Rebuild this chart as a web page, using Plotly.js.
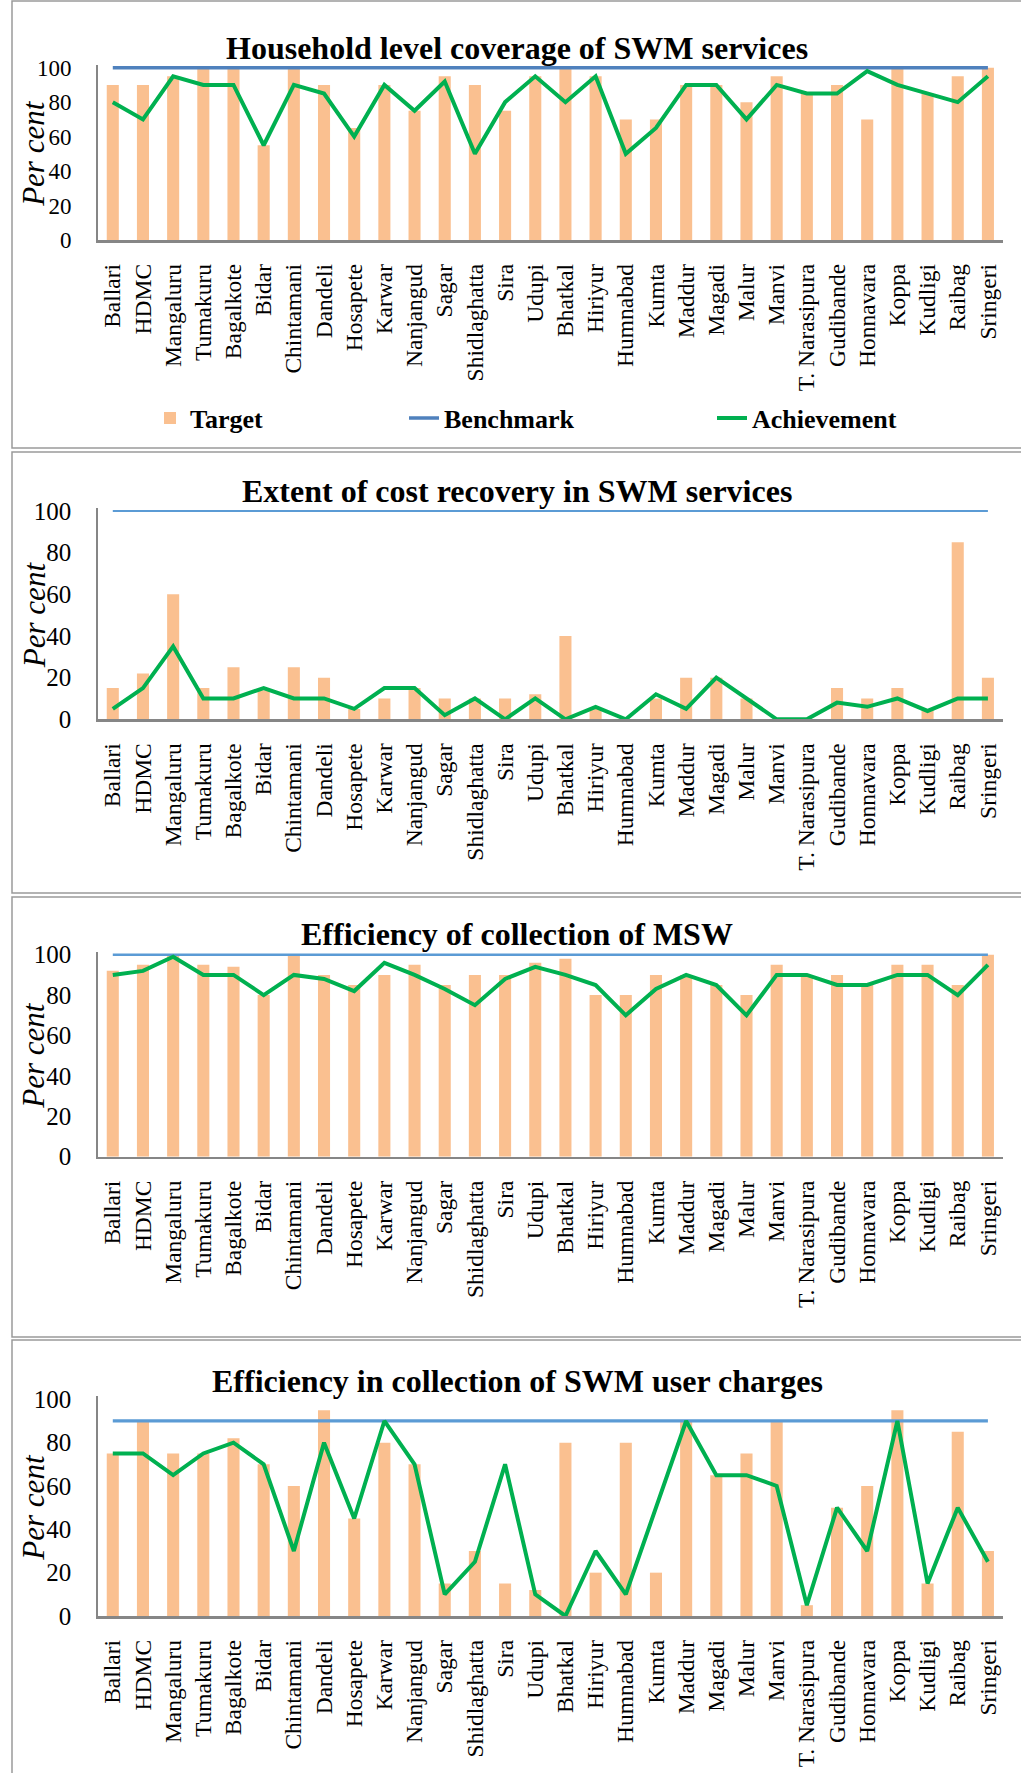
<!DOCTYPE html>
<html><head><meta charset="utf-8">
<script src="https://cdn.plot.ly/plotly-3.0.1.min.js"></script>
<style>html,body{margin:0;padding:0;background:#fff}#chart{width:1021px;height:1773px}</style>
</head><body><div id="chart"></div>
<script>
// ---------------- DATA ----------------
const categories = ["Ballari","HDMC","Mangaluru","Tumakuru","Bagalkote","Bidar","Chintamani","Dandeli","Hosapete","Karwar","Nanjangud","Sagar","Shidlaghatta","Sira","Udupi","Bhatkal","Hiriyur","Humnabad","Kumta","Maddur","Magadi","Malur","Manvi","T. Narasipura","Gudibande","Honnavara","Koppa","Kudligi","Raibag","Sringeri"];
const yTicks = [0, 20, 40, 60, 80, 100];
const seriesNames = ["Target", "Benchmark", "Achievement"];
const panelTitles = [
  "Household level coverage of SWM services",
  "Extent of cost recovery in SWM services",
  "Efficiency of collection of MSW",
  "Efficiency in collection of SWM user charges"
];
const yTitle = "Per cent";

// Panel 1: Household level coverage
const target1 = [90,90,95,100,100,55,100,90,65,90,75,95,90,75,95,100,95,70,70,90,90,80,95,85,90,70,100,85,95,100];
const benchmark1 = [100,100,100,100,100,100,100,100,100,100,100,100,100,100,100,100,100,100,100,100,100,100,100,100,100,100,100,100,100,100];
const achievement1 = [80,70,95,90,90,55,90,85,60,90,75,92,50,80,95,80,95,50,65,90,90,70,90,85,85,98,90,85,80,95];

// Panel 2: Extent of cost recovery
const target2 = [15,22,60,15,25,14,25,20,5,10,15,10,10,10,12,40,5,0,10,20,20,10,0,0,15,10,15,5,85,20];
const benchmark2 = [100,100,100,100,100,100,100,100,100,100,100,100,100,100,100,100,100,100,100,100,100,100,100,100,100,100,100,100,100,100];
const achievement2 = [5,15,35,10,10,15,10,10,5,15,15,2,10,0,10,0,6,0,12,5,20,10,0,0,8,6,10,4,10,10];

// Panel 3: Efficiency of collection of MSW
const target3 = [92,95,100,95,94,80,100,90,85,90,95,85,90,90,96,98,80,80,90,90,85,80,95,90,90,85,95,95,85,100];
const benchmark3 = [100,100,100,100,100,100,100,100,100,100,100,100,100,100,100,100,100,100,100,100,100,100,100,100,100,100,100,100,100,100];
const achievement3 = [90,92,99,90,90,80,90,88,82,96,90,83,75,88,94,90,85,70,83,90,85,70,90,90,85,85,90,90,80,95];

// Panel 4: Efficiency in collection of SWM user charges
const target4 = [75,90,75,75,82,70,60,95,45,80,70,15,30,15,12,80,20,80,20,90,65,75,90,5,50,60,95,15,85,30];
const benchmark4 = [90,90,90,90,90,90,90,90,90,90,90,90,90,90,90,90,90,90,90,90,90,90,90,90,90,90,90,90,90,90];
const achievement4 = [75,75,65,75,80,70,30,80,45,90,70,10,25,70,10,0,30,10,50,90,65,65,60,5,50,30,90,15,50,25];

// ---------------- STYLE / LAYOUT ----------------
const W = 1021, H = 1773;
const px = v => v / W;
const py = v => 1 - v / H;
const F = "Liberation Serif, Times New Roman, serif";
const BAR = "#fac090", GREEN = "#00b050";
const TOPPAD = 1.5; // small headroom (in data units) so the benchmark line at 100 is not clipped

const panels = [
  {t: target1, b: benchmark1, a: achievement1, top: 67.7, bot: 240, titleY: 48, box: [1, 448], benchColor: "#4f81bd", benchW: 3.5, yfs: 23},
  {t: target2, b: benchmark2, a: achievement2, top: 511, bot: 719.3, titleY: 491, box: [452, 893], benchColor: "#5b9bd5", benchW: 2, yfs: 25},
  {t: target3, b: benchmark3, a: achievement3, top: 954.7, bot: 1156.7, titleY: 934, box: [897, 1337], benchColor: "#5b9bd5", benchW: 2.5, yfs: 25},
  {t: target4, b: benchmark4, a: achievement4, top: 1399.3, bot: 1616, titleY: 1381, box: [1340, 1790], benchColor: "#5b9bd5", benchW: 3.2, yfs: 25}
];

const traces = [];
const layout = {
  width: W, height: H,
  margin: {l: 0, r: 0, t: 0, b: 0},
  paper_bgcolor: "#fff", plot_bgcolor: "#fff",
  bargap: 0.6,
  showlegend: true,
  annotations: [], shapes: [],
  font: {family: F, color: "#000"}
};
const legendKeys = ["legend", "legend2", "legend3"];
const legendX = [150, 404, 712];

panels.forEach((p, i) => {
  const n = i === 0 ? "" : String(i + 1);
  const xa = "x" + n, ya = "y" + n;
  traces.push({type: "bar", x: categories, y: p.t, name: seriesNames[0], xaxis: xa, yaxis: ya,
    marker: {color: BAR, line: {width: 0}}, showlegend: i === 0, legend: legendKeys[0], hoverinfo: "x+y"});
  traces.push({type: "scatter", mode: "lines", x: categories, y: p.b, name: seriesNames[1], xaxis: xa, yaxis: ya,
    line: {color: p.benchColor, width: p.benchW}, cliponaxis: false, showlegend: i === 0, legend: legendKeys[1]});
  traces.push({type: "scatter", mode: "lines", x: categories, y: p.a, name: seriesNames[2], xaxis: xa, yaxis: ya,
    line: {color: GREEN, width: 4}, cliponaxis: false, showlegend: i === 0, legend: legendKeys[2]});

  const unit = (p.bot - p.top) / 100;
  const topPx = p.top - TOPPAD * unit;
  layout["xaxis" + n] = {
    domain: [px(97.7), px(1003)], anchor: ya, type: "category",
    showline: true, linecolor: "#868686", linewidth: 2.5,
    showgrid: false, zeroline: false, ticks: "", tickangle: -90,
    tickfont: {family: F, size: 23.5, color: "#000"}, ticklabelstandoff: 12, fixedrange: true
  };
  layout["yaxis" + n] = {
    domain: [py(p.bot), py(topPx)], anchor: xa, range: [0, 100 + TOPPAD],
    tickvals: yTicks, ticktext: yTicks.map(String),
    showline: true, linecolor: "#868686", linewidth: 1.5,
    showgrid: false, zeroline: false, ticks: "",
    tickfont: {family: F, size: p.yfs, color: "#000"}, ticklabelstandoff: 20, fixedrange: true
  };
  layout.annotations.push({
    text: panelTitles[i], xref: "paper", yref: "paper", x: px(517), y: py(p.titleY),
    xanchor: "center", yanchor: "middle", showarrow: false,
    font: {family: F, size: 32, weight: "bold", color: "#000"}
  });
  layout.annotations.push({
    text: yTitle, xref: "paper", yref: "paper", x: px(34), y: py((p.top + p.bot) / 2),
    xanchor: "center", yanchor: "middle", textangle: -90, showarrow: false,
    font: {family: F, size: 31, style: "italic", color: "#000"}
  });
  layout.shapes.push({
    type: "rect", xref: "paper", yref: "paper", x0: px(12), x1: px(1030), y0: py(p.box[1]), y1: py(p.box[0]),
    line: {color: "#9a9a9a", width: 1.5}, fillcolor: "rgba(0,0,0,0)", layer: "below"
  });
});

legendKeys.forEach((k, j) => {
  layout[k] = {
    x: px(legendX[j]), y: py(418), xanchor: "left", yanchor: "middle",
    orientation: "h", bgcolor: "rgba(0,0,0,0)", borderwidth: 0,
    font: {family: F, size: 26, weight: "bold", color: "#000"}, itemwidth: 30
  };
});

Plotly.newPlot("chart", traces, layout, {displayModeBar: false, staticPlot: true});
</script></body></html>
